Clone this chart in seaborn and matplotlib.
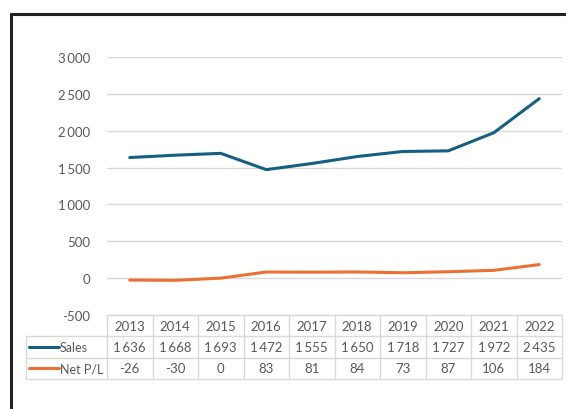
import matplotlib
matplotlib.use("Agg")
import matplotlib.pyplot as plt
import seaborn as sns
import pandas as pd
from matplotlib.lines import Line2D

# Data
years = [2013, 2014, 2015, 2016, 2017, 2018, 2019, 2020, 2021, 2022]
sales = [1636, 1668, 1693, 1472, 1555, 1650, 1718, 1727, 1972, 2435]
net_pl = [-26, -30, 0, 83, 81, 84, 73, 87, 106, 184]
y_ticks = [-500, 0, 500, 1000, 1500, 2000, 2500, 3000]

blue = "#156082"
orange = "#E97132"
grey_txt = "#595959"
grid_col = "#d9d9d9"

sns.set_style("white")
plt.rcParams["font.family"] = ["Lato", "DejaVu Sans"]
FS = 9.5

W, H = 566, 410
fig = plt.figure(figsize=(W / 100, H / 100), dpi=100)

def fx(px):
    return px / W

def fy(py):
    return 1 - py / H

# main plot area (pixel positions)
left, right, top, bottom = 107, 562, 58, 316
ax = fig.add_axes([fx(left), fy(bottom), fx(right - left), fy(top) - fy(bottom)])

df = pd.DataFrame({"pos": range(len(years)), "Sales": sales, "Net P/L": net_pl})
sns.lineplot(data=df, x="pos", y="Sales", color=blue, linewidth=2.2, ax=ax)
sns.lineplot(data=df, x="pos", y="Net P/L", color=orange, linewidth=2.2, ax=ax)

fmt = lambda v: f"{v:,}".replace(",", "\u2009")

ax.set_xlim(-0.5, len(years) - 0.5)
ax.set_ylim(-500, 3000)
ax.set_yticks(y_ticks)
ax.set_yticklabels([fmt(v) for v in y_ticks], color=grey_txt, fontsize=FS)
ax.tick_params(axis="y", length=0, pad=12)
ax.set_xticks([])
ax.set_xlabel("")
ax.set_ylabel("")
ax.grid(axis="y", color=grid_col, linewidth=1)
for s in ax.spines.values():
    s.set_visible(False)

# data table below the plot
t_left, t_top, t_bottom = 26, 316, 380
col_w = (right - left) / len(years)
x0 = -0.5 - (left - t_left) / col_w
tax = fig.add_axes([fx(t_left), fy(t_bottom), fx(right - t_left), fy(t_top) - fy(t_bottom)])
tax.set_xlim(x0, len(years) - 0.5)
tax.set_ylim(3, 0)
tax.axis("off")

lc = "#d9d9d9"
lw = 1.0
# horizontal lines
tax.plot([-0.5, len(years) - 0.5], [0, 0], color=lc, lw=lw, clip_on=False)
for r in [1, 2, 3]:
    tax.plot([x0, len(years) - 0.5], [r, r], color=lc, lw=lw, clip_on=False)
# vertical lines
for c in range(len(years) + 1):
    tax.plot([c - 0.5, c - 0.5], [0, 3], color=lc, lw=lw, clip_on=False)
tax.plot([x0, x0], [1, 3], color=lc, lw=lw, clip_on=False)

for i, yr in enumerate(years):
    tax.text(i, 0.5, str(yr), ha="center", va="center", color=grey_txt, fontsize=FS)
    tax.text(i, 1.5, fmt(sales[i]), ha="center", va="center", color=grey_txt, fontsize=FS)
    tax.text(i, 2.5, fmt(net_pl[i]), ha="center", va="center", color=grey_txt, fontsize=FS)

# legend keys in the table
key_a = x0 + 3 / col_w
key_b = x0 + 33 / col_w
for row, name, col in [(1.5, "Sales", blue), (2.5, "Net P/L", orange)]:
    tax.plot([key_a, key_b], [row, row], color=col, lw=2.2, solid_capstyle="round")
    tax.text(key_b + 1 / col_w, row, name, ha="left", va="center", color=grey_txt, fontsize=9)

# black frame visible on top and left edges
fig.add_artist(Line2D([fx(11), 1], [fy(15), fy(15)], color="#222222", lw=2.2,
                      transform=fig.transFigure))
fig.add_artist(Line2D([fx(11), fx(11)], [fy(15), 0], color="#222222", lw=2.2,
                      transform=fig.transFigure))

fig.savefig("out.png", dpi=100)
